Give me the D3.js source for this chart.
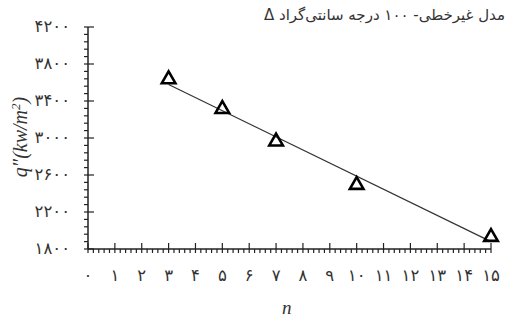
<!DOCTYPE html>
<html>
<head>
<meta charset="utf-8">
<script src="https://cdn.jsdelivr.net/npm/d3@7"></script>
<style>
  body { margin: 0; background: #fff; }
  svg { display: block; }
</style>
</head>
<body>
<div id="chart"></div>
<script>
// data
const nValues = [3, 5, 7, 10, 15];
const qValues = [3635, 3313, 2962, 2492, 1930];
// fitted line end points
const fitN = [3, 15];
const fitQ = [3578, 1880];

const xTicks = d3.range(0, 16);
const yTicks = [1800, 2200, 2600, 3000, 3400, 3800, 4200];
const legendText = "مدل غیرخطی- ۱۰۰ درجه سانتی‌گراد Δ";

const width = 515, height = 325;
const margin = {top: 27, right: 24, bottom: 76, left: 88};

const faDigits = s => String(s).replace(/\d/g, d => "۰۱۲۳۴۵۶۷۸۹"[d]);

const svg = d3.select("#chart").append("svg")
  .attr("width", width)
  .attr("height", height);

const x = d3.scaleLinear()
  .domain([0, 15])
  .range([margin.left, width - margin.right]);

const y = d3.scaleLinear()
  .domain([1800, 4200])
  .range([height - margin.bottom, margin.top]);

const axisColor = "#222";

// minor ticks
const xMinor = d3.range(0, 15.001, 0.2).filter(v => Math.abs(v - Math.round(v)) > 1e-6);
svg.append("g").selectAll("line").data(xMinor).join("line")
  .attr("x1", d => x(d)).attr("x2", d => x(d))
  .attr("y1", y(1800)).attr("y2", y(1800) + 4)
  .attr("stroke", axisColor).attr("stroke-width", 1.2);

const yMinor = d3.range(1800, 4200.1, 80).filter(v => !yTicks.includes(v));
svg.append("g").selectAll("line").data(yMinor).join("line")
  .attr("x1", x(0) - 4).attr("x2", x(0))
  .attr("y1", d => y(d)).attr("y2", d => y(d))
  .attr("stroke", axisColor).attr("stroke-width", 1.2);

// major ticks
svg.append("g").selectAll("line").data(xTicks).join("line")
  .attr("x1", d => x(d)).attr("x2", d => x(d))
  .attr("y1", y(1800) - 6).attr("y2", y(1800) + 4)
  .attr("stroke", axisColor).attr("stroke-width", 1.2);

svg.append("g").selectAll("line").data(yTicks).join("line")
  .attr("x1", x(0) - 4).attr("x2", x(0) + 6)
  .attr("y1", d => y(d)).attr("y2", d => y(d))
  .attr("stroke", axisColor).attr("stroke-width", 1.2);

// axis lines
svg.append("line")
  .attr("x1", x(0)).attr("x2", x(15))
  .attr("y1", y(1800)).attr("y2", y(1800))
  .attr("stroke", axisColor).attr("stroke-width", 1.5);
svg.append("line")
  .attr("x1", x(0)).attr("x2", x(0))
  .attr("y1", y(1800)).attr("y2", y(4200))
  .attr("stroke", axisColor).attr("stroke-width", 1.5);

// tick labels
svg.append("g").selectAll("text").data(xTicks).join("text")
  .attr("x", d => x(d))
  .attr("y", y(1800) + 27)
  .attr("text-anchor", "middle")
  .attr("dominant-baseline", "middle")
  .attr("font-family", "DejaVu Sans")
  .attr("font-size", "16.5px")
  .attr("fill", "#333")
  .text(d => faDigits(d));

svg.append("g").selectAll("text").data(yTicks).join("text")
  .attr("x", x(0) - 18)
  .attr("y", d => y(d))
  .attr("text-anchor", "end")
  .attr("dominant-baseline", "middle")
  .attr("font-family", "DejaVu Sans")
  .attr("font-size", "16.5px")
  .attr("fill", "#333")
  .text(d => faDigits(d));

// axis titles
svg.append("text")
  .attr("x", x(7.4))
  .attr("y", 314)
  .attr("text-anchor", "middle")
  .attr("font-family", "Liberation Serif")
  .attr("font-style", "italic")
  .attr("font-size", "19px")
  .attr("fill", "#333")
  .text("n");

const yLabel = svg.append("text")
  .attr("transform", "translate(27," + 137 + ") rotate(-90)")
  .attr("text-anchor", "middle")
  .attr("font-family", "Liberation Serif")
  .attr("font-style", "italic")
  .attr("font-size", "20px")
  .attr("fill", "#333");
yLabel.append("tspan").text("q\u2033(kw/m");
yLabel.append("tspan").attr("dy", -7).attr("font-size", "13px").text("2");
yLabel.append("tspan").attr("dy", 7).text(")");

// fitted line
svg.append("line")
  .attr("x1", x(fitN[0])).attr("y1", y(fitQ[0]))
  .attr("x2", x(fitN[1])).attr("y2", y(fitQ[1]))
  .attr("stroke", "#333").attr("stroke-width", 1.2);

// triangle markers
const tri = d3.symbol().type(d3.symbolTriangle).size(80);
svg.append("g").selectAll("path").data(nValues).join("path")
  .attr("transform", (d, i) => "translate(" + x(d) + "," + y(qValues[i]) + ")")
  .attr("d", tri)
  .attr("fill", "none")
  .attr("stroke", "#000")
  .attr("stroke-width", 2.6)
  .attr("stroke-linejoin", "miter");

// legend text
svg.append("text")
  .attr("x", 505)
  .attr("y", 20)
  .attr("direction", "rtl")
  .attr("text-anchor", "start")
  .attr("font-family", "DejaVu Sans")
  .attr("font-size", "15px")
  .attr("fill", "#333")
  .text(legendText);
</script>
</body>
</html>
